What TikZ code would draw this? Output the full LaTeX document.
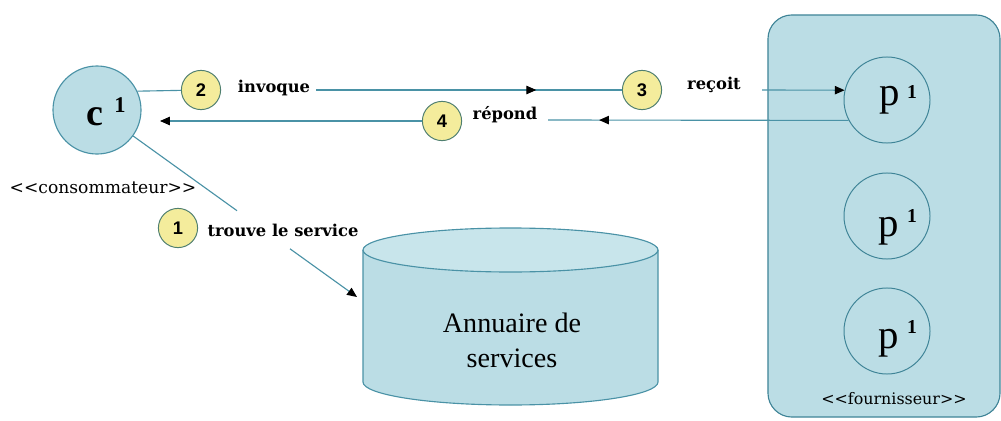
\documentclass[tikz,border=0pt]{standalone}
\usepackage{fontspec}
\setmainfont{Liberation Serif}
\newfontfamily\lblfont{DejaVu Serif}
\newfontfamily\numfont{Liberation Sans}
\usetikzlibrary{arrows.meta,decorations.markings}
\definecolor{lb}{HTML}{BBDDE5}
\definecolor{lbtop}{HTML}{C8E5EB}
\definecolor{tealln}{HTML}{4A92A6}
\definecolor{tealdk}{HTML}{3F8497}
\definecolor{badgeY}{HTML}{F4EC9C}
\definecolor{badgeB}{HTML}{4F7F70}
\begin{document}
\begin{tikzpicture}[x=0.025cm,y=-0.025cm,
  actor/.style={circle,draw=tealln,line width=0.8pt,fill=lb,minimum size=2.2cm,inner sep=0},
  pcirc/.style={circle,draw=tealdk,line width=0.7pt,minimum size=2.15cm,inner sep=0},
  badge/.style={circle,draw=badgeB,line width=0.7pt,fill=badgeY,minimum size=0.98cm,inner sep=0,
    font=\numfont\bfseries\fontsize{13}{13}\selectfont},
  lbl/.style={anchor=base,inner sep=0,font=\lblfont\bfseries\fontsize{11.6}{11.6}\selectfont},
  conn/.style={draw=tealln,line width=0.8pt},
  tip/.style={-{Triangle[length=7pt,width=6pt,black]}},
  midtip/.style={postaction={decorate},decoration={markings,mark=at position #1 with {\arrow{Triangle[length=7pt,width=6pt,black]}}}},
  bigp/.style={anchor=base,inner sep=0,font=\fontsize{29}{29}\selectfont},
  sup/.style={anchor=base,inner sep=0,font=\bfseries\fontsize{14}{14}\selectfont}
]
\useasboundingbox (0,0) rectangle (1001,421);

% provider box
\node[draw=tealdk,line width=0.8pt,fill=lb,rounded corners=0.6cm,minimum width=5.8cm,minimum height=10.05cm,inner sep=0] (prov) at (884,216) {};
\node[pcirc] (p1) at (887,100) {};
\node[pcirc] (p2) at (887,216) {};
\node[pcirc] (p3) at (887,331) {};
\node[bigp] (p1t) at (890,105) {p};
\node[sup] (p1s) at (912,98) {1};
\node[bigp] (p2t) at (889,236) {p};
\node[sup] (p2s) at (912,222) {1};
\node[bigp] (p3t) at (889,348) {p};
\node[sup] (p3s) at (912,333) {1};
\node[lbl,font=\lblfont\fontsize{11.3}{11.3}\selectfont] (four) at (894,404) {<{}<fournisseur>{}>};

% consumer
\node[actor] (c) at (97,110) {};
\node[anchor=base,inner sep=0,font=\bfseries\fontsize{27}{27}\selectfont] (ct) at (95,125) {c};
\node[anchor=base,inner sep=0,font=\bfseries\fontsize{16}{16}\selectfont] (cs) at (120,112) {1};
\node[lbl,font=\lblfont\fontsize{12.2}{12.2}\selectfont] (cons) at (103,193) {<{}<consommateur>{}>};

% directory (cylinder)
\fill[lb] (363,250) -- (363,382) arc[start angle=180,end angle=0,x radius=147.5,y radius=23] -- (658,250) -- cycle;
\draw[tealln,line width=0.8pt] (363,250) -- (363,382) arc[start angle=180,end angle=0,x radius=147.5,y radius=23] -- (658,250);
\draw[tealln,line width=0.8pt,fill=lbtop] (510.5,250) ellipse[x radius=147.5,y radius=22];
\node[anchor=base,inner sep=0,font=\fontsize{20}{20}\selectfont] (ann1) at (512,332) {Annuaire de};
\node[anchor=base,inner sep=0,font=\fontsize{20}{20}\selectfont] (ann2) at (512,367) {services};

% badges
\node[badge] (b1) at (178,228) {1};
\node[badge] (b2) at (201,90) {2};
\node[badge] (b3) at (642,90) {3};
\node[badge] (b4) at (442,121) {4};

% labels
\node[lbl] (inv) at (274,92) {invoque};
\node[lbl] (rec) at (714,89) {reçoit};
\node[lbl] (rep) at (505,119) {répond};
\node[lbl] (trv) at (283,236) {trouve le service};

% connectors
\coordinate (invE) at (316,90);
\coordinate (recE) at (762,90);
\coordinate (repE) at (548,120);
\coordinate (cIn) at (160,121);
\coordinate (l1a) at (237,210.7);
\coordinate (l1b) at (290,248.8);
\coordinate (annIn) at (357,297);

\draw[conn] (c.25) -- (b2);
\draw[conn,midtip=0.72] (invE) -- (b3);
\draw[conn,tip] (recE) -- (p1.167);
\draw[conn,midtip=0.83,-] (p1.208) -- (repE);
\draw[conn,tip] (b4) -- (cIn);
\draw[conn] (c) -- (l1a);
\draw[conn,tip] (l1b) -- (annIn);
\end{tikzpicture}
\end{document}
